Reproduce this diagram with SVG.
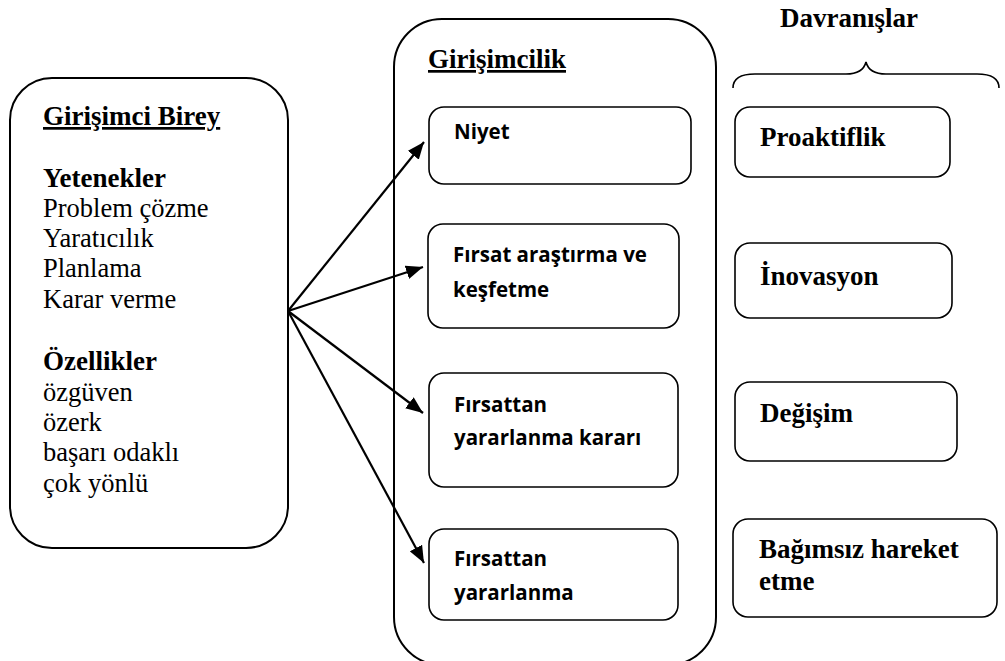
<svg xmlns="http://www.w3.org/2000/svg" width="1005" height="661" viewBox="0 0 1005 661">
<style>
.big{fill:#fff;stroke:#000;stroke-width:2}
.box{fill:#fff;stroke:#000;stroke-width:1.6}
.tb{font-family:'Liberation Serif','DejaVu Serif',serif;font-weight:bold;font-size:27px;fill:#000}
.tr{font-family:'Liberation Serif','DejaVu Serif',serif;font-size:26.5px;fill:#000}
.sb{font-family:'Open Sans','Liberation Sans',sans-serif;font-weight:bold;font-size:20.5px;fill:#000}
.u{text-decoration:underline}
.conn{stroke:#000;stroke-width:2.2;fill:none}
</style>
<defs>
<marker id="ah" markerUnits="userSpaceOnUse" markerWidth="18" markerHeight="14" refX="17" refY="7" orient="auto">
<path d="M0,0 L17,7 L0,14 Z" fill="#000"/>
</marker>
</defs>
<g id="girisimci-birey">
<rect class="big" x="10" y="78" width="278" height="470" rx="42"/>
<text class="tb u" x="43" y="125">Girişimci Birey</text>
<text class="tb" x="43" y="187">Yetenekler</text>
<text class="tr" x="43" y="217">Problem çözme</text>
<text class="tr" x="43" y="247">Yaratıcılık</text>
<text class="tr" x="43" y="277">Planlama</text>
<text class="tr" x="43" y="308">Karar verme</text>
<text class="tb" x="43" y="370">Özellikler</text>
<text class="tr" x="43" y="401">özgüven</text>
<text class="tr" x="43" y="431">özerk</text>
<text class="tr" x="43" y="461">başarı odaklı</text>
<text class="tr" x="43" y="492">çok yönlü</text>
</g>
<g id="girisimcilik">
<rect class="big" x="394" y="19" width="322" height="646" rx="48"/>
<text class="tb u" x="428" y="68">Girişimcilik</text>
</g>
<g id="niyet">
<rect class="box" x="429" y="107" width="262" height="77" rx="15"/>
<text class="sb" x="454" y="139">Niyet</text>
</g>
<g id="firsat-arastirma">
<rect class="box" x="428" y="224" width="251" height="104" rx="15"/>
<text class="sb" x="453" y="262">Fırsat araştırma ve</text>
<text class="sb" x="453" y="297">keşfetme</text>
</g>
<g id="firsattan-yararlanma-karari">
<rect class="box" x="429" y="373" width="249" height="114" rx="15"/>
<text class="sb" x="454" y="412">Fırsattan</text>
<text class="sb" x="454" y="445">yararlanma kararı</text>
</g>
<g id="firsattan-yararlanma">
<rect class="box" x="429" y="529" width="249" height="91" rx="15"/>
<text class="sb" x="454" y="566">Fırsattan</text>
<text class="sb" x="454" y="600">yararlanma</text>
</g>
<g id="davranislar">
<text class="tb" x="780" y="27">Davranışlar</text>
<path class="conn" style="stroke-width:1.6" d="M733,88 C733,79 740,74 755,74 L846,74 C858,74 864,70 866,62 C868,70 874,74 886,74 L977,74 C992,74 999,79 999,88"/>
</g>
<g id="proaktiflik">
<rect class="box" x="735" y="107" width="215" height="70" rx="15"/>
<text class="tb" x="760" y="146">Proaktiflik</text>
</g>
<g id="inovasyon">
<rect class="box" x="735" y="243" width="217" height="75" rx="15"/>
<text class="tb" x="760" y="285">İnovasyon</text>
</g>
<g id="degisim">
<rect class="box" x="735" y="382" width="222" height="79" rx="15"/>
<text class="tb" x="760" y="422">Değişim</text>
</g>
<g id="bagimsiz">
<rect class="box" x="733" y="519" width="264" height="98" rx="15"/>
<text class="tb" x="759" y="558">Bağımsız hareket</text>
<text class="tb" x="759" y="590">etme</text>
</g>
<g id="connectors">
<line class="conn" x1="288" y1="311" x2="424" y2="142" marker-end="url(#ah)"/>
<line class="conn" x1="288" y1="311" x2="423" y2="267" marker-end="url(#ah)"/>
<line class="conn" x1="288" y1="311" x2="423" y2="413" marker-end="url(#ah)"/>
<line class="conn" x1="288" y1="311" x2="424" y2="563" marker-end="url(#ah)"/>
</g>
</svg>
